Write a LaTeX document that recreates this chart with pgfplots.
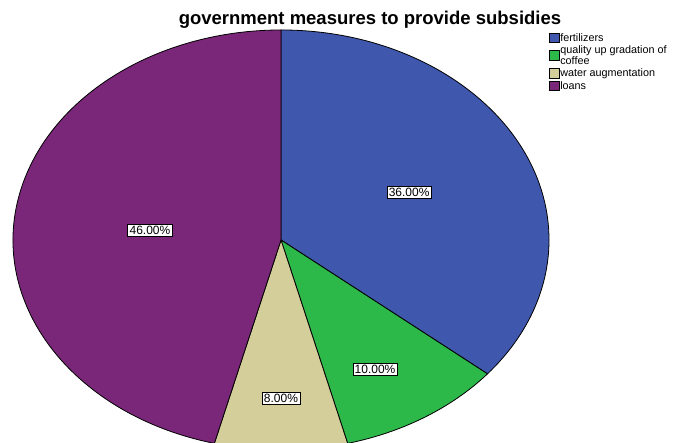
\documentclass[border=0pt]{standalone}
\usepackage{fontspec}
\setmainfont{Liberation Sans}
\usepackage{pgfplots}
\usepackage{pgfplotstable}
\pgfplotsset{compat=1.18}
\definecolor{cFert}{HTML}{3F58AE}
\definecolor{cQual}{HTML}{2DB84A}
\definecolor{cWater}{HTML}{D4CE9A}
\definecolor{cLoan}{HTML}{7B2779}
\pgfplotstableread{
label value
fertilizers 36
quality 10
water 8
loans 46
}\piedata
\pgfplotstablegetelem{0}{value}\of\piedata \let\vA\pgfplotsretval
\pgfplotstablegetelem{1}{value}\of\piedata \let\vB\pgfplotsretval
\pgfplotstablegetelem{2}{value}\of\piedata \let\vC\pgfplotsretval
\pgfplotstablegetelem{3}{value}\of\piedata \let\vD\pgfplotsretval
\pgfmathsetmacro\aA{90}
\pgfmathsetmacro\aB{90-3.6*\vA}
\pgfmathsetmacro\aC{\aB-3.6*\vB}
\pgfmathsetmacro\aD{\aC-3.6*\vC}
\pgfmathsetmacro\aE{\aD-3.6*\vD}
\begin{document}
\begin{tikzpicture}
\begin{axis}[
  at={(0,0)}, anchor=south west,
  x=268pt, y=210pt,
  xmin=-1.0485, xmax=1.5336, ymin=-0.9667, ymax=1.1429,
  hide axis, clip=true,
  legend style={at={(axis cs:1.0,0.99)}, anchor=north west, draw=none, fill=none,
    font=\fontsize{10.8}{9.5}\selectfont, inner sep=0pt, row sep=1pt,
    nodes={inner sep=1pt, align=left}},
  legend cell align=left,
  legend image code/.code={\draw[#1, line width=0.6pt] (0pt,-4.5pt) rectangle (9.5pt,5pt);},
]
\addlegendimage{fill=cFert, draw=black}
\addlegendentry{fertilizers}
\addlegendimage{fill=cQual, draw=black}
\addlegendentry{quality up gradation of\\coffee}
\addlegendimage{fill=cWater, draw=black}
\addlegendentry{water augmentation}
\addlegendimage{fill=cLoan, draw=black}
\addlegendentry{loans}
\fill[cFert, draw=black, line width=0.8pt] (axis cs:0,0) -- (axis cs:{cos(\aA)},{sin(\aA)}) arc[start angle=\aA, end angle=\aB, x radius=268pt, y radius=210pt] -- cycle;
\fill[cQual, draw=black, line width=0.8pt] (axis cs:0,0) -- (axis cs:{cos(\aB)},{sin(\aB)}) arc[start angle=\aB, end angle=\aC, x radius=268pt, y radius=210pt] -- cycle;
\fill[cWater, draw=black, line width=0.8pt] (axis cs:0,0) -- (axis cs:{cos(\aC)},{sin(\aC)}) arc[start angle=\aC, end angle=\aD, x radius=268pt, y radius=210pt] -- cycle;
\fill[cLoan, draw=black, line width=0.8pt] (axis cs:0,0) -- (axis cs:{cos(\aD)},{sin(\aD)}) arc[start angle=\aD, end angle=\aE, x radius=268pt, y radius=210pt] -- cycle;
\tikzset{lbl/.style={fill=white, draw=black, line width=0.6pt, inner sep=1.8pt, font=\fontsize{12}{12}\selectfont}}
\node[lbl] at (axis cs:0.478,0.229) {36.00\%};
\node[lbl] at (axis cs:0.351,-0.614) {10.00\%};
\node[lbl] at (axis cs:0.0,-0.752) {8.00\%};
\node[lbl] at (axis cs:-0.489,0.048) {46.00\%};
\node[font=\bfseries\fontsize{18.5}{18.5}\selectfont] at (axis cs:0.332,1.047) {government measures to provide subsidies};
\end{axis}
\pgfresetboundingbox
\path (0,0) rectangle (692pt,443pt);
\end{tikzpicture}
\end{document}
